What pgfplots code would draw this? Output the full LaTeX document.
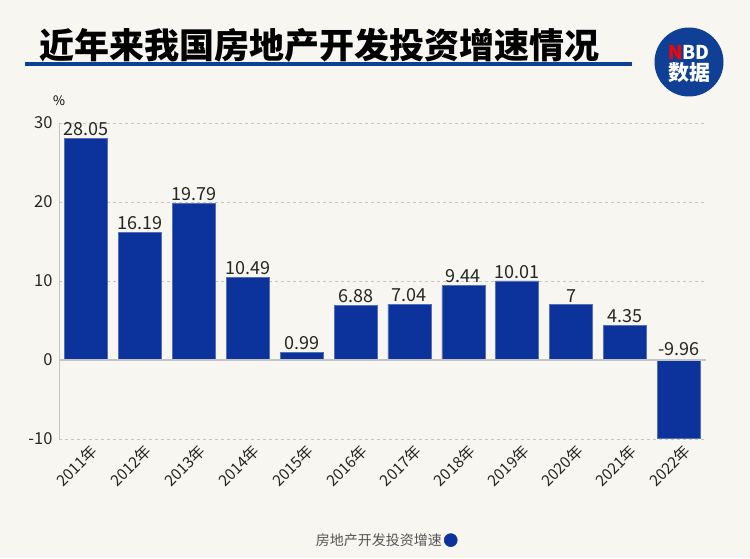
\documentclass[border=0pt]{standalone}
\usepackage{pgfplots}
\pgfplotsset{compat=1.18}
\usepackage{fontspec}
\setmainfont{Noto Sans CJK SC}
\definecolor{bg}{HTML}{F8F6F1}
\definecolor{barblue}{HTML}{0C339B}
\definecolor{logoblue}{HTML}{0F4096}
\definecolor{lineblue}{HTML}{0D3F94}
\definecolor{axgray}{HTML}{C4C4C4}
\definecolor{lblgray}{HTML}{555555}
\begin{document}
\begin{tikzpicture}[x=1pt,y=1pt]
\fill[bg] (0,0) rectangle (750,558);
\node[anchor=west, inner sep=0pt, font=\fontsize{35}{35}\selectfont\bfseries] at (39,513) {近年来我国房地产开发投资增速情况};
\fill[lineblue] (25,492) rectangle (632,496);
\fill[logoblue] (689,496) circle (34.5);
\node[inner sep=0pt, font=\fontsize{19}{19}\selectfont\bfseries] at (689,506) {\textcolor{red}{N}\textcolor{white}{BD}};
\node[inner sep=0pt, text=white, font=\fontsize{21}{21}\selectfont\bfseries] at (689,485) {数据};
\node[inner sep=0pt, font=\fontsize{13}{13}\selectfont] at (59,457) {\%};
\begin{axis}[
  at={(59pt,119pt)}, anchor=south west,
  width=647pt, height=316pt, scale only axis,
  xmin=-0.5, xmax=11.5, ymin=-10, ymax=30,
  ytick={-10,0,10,20,30},
  xtick={0,...,11},
  xticklabels={2011年,2012年,2013年,2014年,2015年,2016年,2017年,2018年,2019年,2020年,2021年,2022年},
  x tick label style={rotate=45, anchor=north east, font=\fontsize{15.5}{15.5}\selectfont, text=black!85, xshift=3pt, yshift=-2pt},
  y tick label style={font=\fontsize{16.5}{16.5}\selectfont, text=black!85, xshift=-3pt},
  /pgf/number format/assume math mode=true,
  axis line style={draw=none},
  tick style={draw=none},
  ymajorgrids, grid style={dashed, axgray, line width=0.8pt},
  legend style={at={(0.505,-0.32)}, anchor=center, draw=none, fill=none, font=\fontsize{14}{14}\selectfont, text=lblgray},
  legend plot pos=right,
  legend image code/.code={\fill[barblue] (0.3cm,0cm) circle (6.5pt);},
]
\addplot[ybar, bar width=43pt, fill=barblue, draw=barblue!70!white, line width=0.6pt,
  nodes near coords, nodes near coords style={font=\fontsize{18}{18}\selectfont, text=black!85, yshift=-1pt},
  point meta=explicit symbolic]
coordinates {(0,28.05)[28.05] (1,16.19)[16.19] (2,19.79)[19.79] (3,10.49)[10.49] (4,0.99)[0.99] (5,6.88)[6.88] (6,7.04)[7.04] (7,9.44)[9.44] (8,10.01)[10.01] (9,7)[7] (10,4.35)[4.35]};
\addlegendentry{房地产开发投资增速}
\addplot[ybar, bar width=43pt, fill=barblue, draw=barblue!70!white, line width=0.6pt, forget plot]
coordinates {(11,-9.96)};
\addplot[only marks, mark=none, forget plot, nodes near coords, point meta=explicit symbolic,
  nodes near coords style={anchor=south, font=\fontsize{18}{18}\selectfont, text=black!85, yshift=1pt}]
coordinates {(11,0)[-9.96]};
\draw[axgray, line width=1.5pt] (axis cs:-0.5,0) -- (axis cs:11.5,0);
\draw[axgray, line width=2pt] (axis cs:-0.5,-10) -- (axis cs:-0.5,30);
\end{axis}
\end{tikzpicture}
\end{document}
